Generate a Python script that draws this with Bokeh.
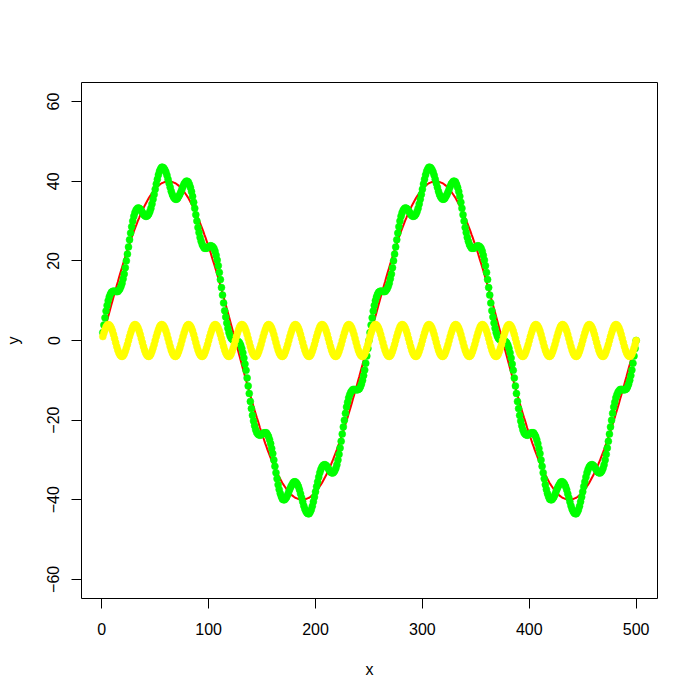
from bokeh.plotting import figure
from bokeh.models import Range1d, FixedTicker
from bokeh.embed import file_html
from bokeh.resources import INLINE

# x positions 1..500
x = list(range(1, 501))

# red line
red = [
    1.0, 2.0, 3.0, 4.0, 5.0, 6.0, 7.0, 8.0, 9.0, 9.9, 10.9, 11.9, 12.8, 13.8, 14.7, 15.7, 16.6, 17.5, 18.4, 19.3, 20.1, 21.0, 21.9, 22.7, 23.5,
    24.3, 25.1, 25.9, 26.6, 27.4, 28.1, 28.8, 29.5, 30.2, 30.8, 31.5, 32.1, 32.7, 33.2, 33.8, 34.3, 34.8, 35.3, 35.8, 36.2, 36.6, 37.0, 37.4, 37.7, 38.0,
    38.3, 38.6, 38.9, 39.1, 39.3, 39.5, 39.6, 39.7, 39.8, 39.9, 40.0, 40.0, 40.0, 40.0, 39.9, 39.8, 39.7, 39.6, 39.5, 39.3, 39.1, 38.9, 38.6, 38.3, 38.0,
    37.7, 37.4, 37.0, 36.6, 36.2, 35.8, 35.3, 34.8, 34.3, 33.8, 33.2, 32.7, 32.1, 31.5, 30.8, 30.2, 29.5, 28.8, 28.1, 27.4, 26.6, 25.9, 25.1, 24.3, 23.5,
    22.7, 21.9, 21.0, 20.1, 19.3, 18.4, 17.5, 16.6, 15.7, 14.7, 13.8, 12.8, 11.9, 10.9, 9.9, 9.0, 8.0, 7.0, 6.0, 5.0, 4.0, 3.0, 2.0, 1.0, 0.0,
    -1.0, -2.0, -3.0, -4.0, -5.0, -6.0, -7.0, -8.0, -9.0, -9.9, -10.9, -11.9, -12.8, -13.8, -14.7, -15.7, -16.6, -17.5, -18.4, -19.3, -20.1, -21.0, -21.9, -22.7, -23.5,
    -24.3, -25.1, -25.9, -26.6, -27.4, -28.1, -28.8, -29.5, -30.2, -30.8, -31.5, -32.1, -32.7, -33.2, -33.8, -34.3, -34.8, -35.3, -35.8, -36.2, -36.6, -37.0, -37.4, -37.7, -38.0,
    -38.3, -38.6, -38.9, -39.1, -39.3, -39.5, -39.6, -39.7, -39.8, -39.9, -40.0, -40.0, -40.0, -40.0, -39.9, -39.8, -39.7, -39.6, -39.5, -39.3, -39.1, -38.9, -38.6, -38.3, -38.0,
    -37.7, -37.4, -37.0, -36.6, -36.2, -35.8, -35.3, -34.8, -34.3, -33.8, -33.2, -32.7, -32.1, -31.5, -30.8, -30.2, -29.5, -28.8, -28.1, -27.4, -26.6, -25.9, -25.1, -24.3, -23.5,
    -22.7, -21.9, -21.0, -20.1, -19.3, -18.4, -17.5, -16.6, -15.7, -14.7, -13.8, -12.8, -11.9, -10.9, -9.9, -9.0, -8.0, -7.0, -6.0, -5.0, -4.0, -3.0, -2.0, -1.0, 0.0,
    1.0, 2.0, 3.0, 4.0, 5.0, 6.0, 7.0, 8.0, 9.0, 9.9, 10.9, 11.9, 12.8, 13.8, 14.7, 15.7, 16.6, 17.5, 18.4, 19.3, 20.1, 21.0, 21.9, 22.7, 23.5,
    24.3, 25.1, 25.9, 26.6, 27.4, 28.1, 28.8, 29.5, 30.2, 30.8, 31.5, 32.1, 32.7, 33.2, 33.8, 34.3, 34.8, 35.3, 35.8, 36.2, 36.6, 37.0, 37.4, 37.7, 38.0,
    38.3, 38.6, 38.9, 39.1, 39.3, 39.5, 39.6, 39.7, 39.8, 39.9, 40.0, 40.0, 40.0, 40.0, 39.9, 39.8, 39.7, 39.6, 39.5, 39.3, 39.1, 38.9, 38.6, 38.3, 38.0,
    37.7, 37.4, 37.0, 36.6, 36.2, 35.8, 35.3, 34.8, 34.3, 33.8, 33.2, 32.7, 32.1, 31.5, 30.8, 30.2, 29.5, 28.8, 28.1, 27.4, 26.6, 25.9, 25.1, 24.3, 23.5,
    22.7, 21.9, 21.0, 20.1, 19.3, 18.4, 17.5, 16.6, 15.7, 14.7, 13.8, 12.8, 11.9, 10.9, 9.9, 9.0, 8.0, 7.0, 6.0, 5.0, 4.0, 3.0, 2.0, 1.0, 0.0,
    -1.0, -2.0, -3.0, -4.0, -5.0, -6.0, -7.0, -8.0, -9.0, -9.9, -10.9, -11.9, -12.8, -13.8, -14.7, -15.7, -16.6, -17.5, -18.4, -19.3, -20.1, -21.0, -21.9, -22.7, -23.5,
    -24.3, -25.1, -25.9, -26.6, -27.4, -28.1, -28.8, -29.5, -30.2, -30.8, -31.5, -32.1, -32.7, -33.2, -33.8, -34.3, -34.8, -35.3, -35.8, -36.2, -36.6, -37.0, -37.4, -37.7, -38.0,
    -38.3, -38.6, -38.9, -39.1, -39.3, -39.5, -39.6, -39.7, -39.8, -39.9, -40.0, -40.0, -40.0, -40.0, -39.9, -39.8, -39.7, -39.6, -39.5, -39.3, -39.1, -38.9, -38.6, -38.3, -38.0,
    -37.7, -37.4, -37.0, -36.6, -36.2, -35.8, -35.3, -34.8, -34.3, -33.8, -33.2, -32.7, -32.1, -31.5, -30.8, -30.2, -29.5, -28.8, -28.1, -27.4, -26.6, -25.9, -25.1, -24.3, -23.5,
    -22.7, -21.9, -21.0, -20.1, -19.3, -18.4, -17.5, -16.6, -15.7, -14.7, -13.8, -12.8, -11.9, -10.9, -9.9, -9.0, -8.0, -7.0, -6.0, -5.0, -4.0, -3.0, -2.0, -1.0, 0.0,
]

# green points
green = [
    2.0, 3.9, 5.7, 7.4, 8.8, 10.0, 10.9, 11.6, 12.1, 12.3, 12.4, 12.4, 12.3, 12.3, 12.3, 12.6, 13.0, 13.6, 14.4, 15.5, 16.7, 18.3, 20.0, 21.7, 23.5,
    25.3, 27.0, 28.6, 30.0, 31.2, 32.1, 32.7, 33.1, 33.3, 33.2, 33.0, 32.6, 32.2, 31.7, 31.4, 31.2, 31.2, 31.4, 31.8, 32.4, 33.2, 34.3, 35.5, 36.7, 38.0,
    39.3, 40.5, 41.6, 42.5, 43.1, 43.5, 43.5, 43.3, 42.9, 42.3, 41.5, 40.5, 39.5, 38.5, 37.5, 36.7, 36.1, 35.7, 35.5, 35.5, 35.7, 36.2, 36.7, 37.3, 38.0,
    38.7, 39.3, 39.7, 40.0, 40.0, 39.8, 39.2, 38.4, 37.4, 36.2, 34.7, 33.2, 31.6, 30.0, 28.4, 27.1, 25.9, 24.9, 24.1, 23.6, 23.2, 23.2, 23.2, 23.3, 23.5,
    23.7, 23.8, 23.7, 23.5, 23.1, 22.4, 21.4, 20.2, 18.8, 17.1, 15.3, 13.3, 11.4, 9.4, 7.5, 5.9, 4.4, 3.1, 2.0, 1.2, 0.6, 0.3, 0.1, 0.0, 0.0,
    0.0, -0.1, -0.3, -0.6, -1.2, -2.0, -3.1, -4.4, -5.9, -7.5, -9.4, -11.4, -13.3, -15.3, -17.1, -18.8, -20.2, -21.4, -22.4, -23.1, -23.5, -23.7, -23.8, -23.7, -23.5,
    -23.3, -23.2, -23.2, -23.2, -23.6, -24.1, -24.9, -25.9, -27.1, -28.4, -30.0, -31.6, -33.2, -34.7, -36.2, -37.4, -38.4, -39.2, -39.8, -40.0, -40.0, -39.7, -39.3, -38.7, -38.0,
    -37.3, -36.7, -36.2, -35.7, -35.5, -35.5, -35.7, -36.1, -36.7, -37.5, -38.5, -39.5, -40.5, -41.5, -42.3, -42.9, -43.3, -43.5, -43.5, -43.1, -42.5, -41.6, -40.5, -39.3, -38.0,
    -36.7, -35.5, -34.3, -33.2, -32.4, -31.8, -31.4, -31.2, -31.2, -31.4, -31.7, -32.2, -32.6, -33.0, -33.2, -33.3, -33.1, -32.7, -32.1, -31.2, -30.0, -28.6, -27.0, -25.3, -23.5,
    -21.7, -20.0, -18.3, -16.7, -15.5, -14.4, -13.6, -13.0, -12.6, -12.3, -12.3, -12.3, -12.4, -12.4, -12.3, -12.1, -11.6, -10.9, -10.0, -8.8, -7.4, -5.7, -3.9, -2.0, 0.0,
    2.0, 3.9, 5.7, 7.4, 8.8, 10.0, 10.9, 11.6, 12.1, 12.3, 12.4, 12.4, 12.3, 12.3, 12.3, 12.6, 13.0, 13.6, 14.4, 15.5, 16.7, 18.3, 20.0, 21.7, 23.5,
    25.3, 27.0, 28.6, 30.0, 31.2, 32.1, 32.7, 33.1, 33.3, 33.2, 33.0, 32.6, 32.2, 31.7, 31.4, 31.2, 31.2, 31.4, 31.8, 32.4, 33.2, 34.3, 35.5, 36.7, 38.0,
    39.3, 40.5, 41.6, 42.5, 43.1, 43.5, 43.5, 43.3, 42.9, 42.3, 41.5, 40.5, 39.5, 38.5, 37.5, 36.7, 36.1, 35.7, 35.5, 35.5, 35.7, 36.2, 36.7, 37.3, 38.0,
    38.7, 39.3, 39.7, 40.0, 40.0, 39.8, 39.2, 38.4, 37.4, 36.2, 34.7, 33.2, 31.6, 30.0, 28.4, 27.1, 25.9, 24.9, 24.1, 23.6, 23.2, 23.2, 23.2, 23.3, 23.5,
    23.7, 23.8, 23.7, 23.5, 23.1, 22.4, 21.4, 20.2, 18.8, 17.1, 15.3, 13.3, 11.4, 9.4, 7.5, 5.9, 4.4, 3.1, 2.0, 1.2, 0.6, 0.3, 0.1, 0.0, 0.0,
    0.0, -0.1, -0.3, -0.6, -1.2, -2.0, -3.1, -4.4, -5.9, -7.5, -9.4, -11.4, -13.3, -15.3, -17.1, -18.8, -20.2, -21.4, -22.4, -23.1, -23.5, -23.7, -23.8, -23.7, -23.5,
    -23.3, -23.2, -23.2, -23.2, -23.6, -24.1, -24.9, -25.9, -27.1, -28.4, -30.0, -31.6, -33.2, -34.7, -36.2, -37.4, -38.4, -39.2, -39.8, -40.0, -40.0, -39.7, -39.3, -38.7, -38.0,
    -37.3, -36.7, -36.2, -35.7, -35.5, -35.5, -35.7, -36.1, -36.7, -37.5, -38.5, -39.5, -40.5, -41.5, -42.3, -42.9, -43.3, -43.5, -43.5, -43.1, -42.5, -41.6, -40.5, -39.3, -38.0,
    -36.7, -35.5, -34.3, -33.2, -32.4, -31.8, -31.4, -31.2, -31.2, -31.4, -31.7, -32.2, -32.6, -33.0, -33.2, -33.3, -33.1, -32.7, -32.1, -31.2, -30.0, -28.6, -27.0, -25.3, -23.5,
    -21.7, -20.0, -18.3, -16.7, -15.5, -14.4, -13.6, -13.0, -12.6, -12.3, -12.3, -12.3, -12.4, -12.4, -12.3, -12.1, -11.6, -10.9, -10.0, -8.8, -7.4, -5.7, -3.9, -2.0, 0.0,
]

# yellow points
yellow = [
    1.0, 1.9, 2.7, 3.4, 3.8, 4.0, 3.9, 3.6, 3.1, 2.4, 1.5, 0.5, -0.5, -1.5, -2.4, -3.1, -3.6, -3.9, -4.0, -3.8, -3.4, -2.7, -1.9, -1.0, 0.0,
    1.0, 1.9, 2.7, 3.4, 3.8, 4.0, 3.9, 3.6, 3.1, 2.4, 1.5, 0.5, -0.5, -1.5, -2.4, -3.1, -3.6, -3.9, -4.0, -3.8, -3.4, -2.7, -1.9, -1.0, 0.0,
    1.0, 1.9, 2.7, 3.4, 3.8, 4.0, 3.9, 3.6, 3.1, 2.4, 1.5, 0.5, -0.5, -1.5, -2.4, -3.1, -3.6, -3.9, -4.0, -3.8, -3.4, -2.7, -1.9, -1.0, 0.0,
    1.0, 1.9, 2.7, 3.4, 3.8, 4.0, 3.9, 3.6, 3.1, 2.4, 1.5, 0.5, -0.5, -1.5, -2.4, -3.1, -3.6, -3.9, -4.0, -3.8, -3.4, -2.7, -1.9, -1.0, 0.0,
    1.0, 1.9, 2.7, 3.4, 3.8, 4.0, 3.9, 3.6, 3.1, 2.4, 1.5, 0.5, -0.5, -1.5, -2.4, -3.1, -3.6, -3.9, -4.0, -3.8, -3.4, -2.7, -1.9, -1.0, 0.0,
    1.0, 1.9, 2.7, 3.4, 3.8, 4.0, 3.9, 3.6, 3.1, 2.4, 1.5, 0.5, -0.5, -1.5, -2.4, -3.1, -3.6, -3.9, -4.0, -3.8, -3.4, -2.7, -1.9, -1.0, 0.0,
    1.0, 1.9, 2.7, 3.4, 3.8, 4.0, 3.9, 3.6, 3.1, 2.4, 1.5, 0.5, -0.5, -1.5, -2.4, -3.1, -3.6, -3.9, -4.0, -3.8, -3.4, -2.7, -1.9, -1.0, 0.0,
    1.0, 1.9, 2.7, 3.4, 3.8, 4.0, 3.9, 3.6, 3.1, 2.4, 1.5, 0.5, -0.5, -1.5, -2.4, -3.1, -3.6, -3.9, -4.0, -3.8, -3.4, -2.7, -1.9, -1.0, 0.0,
    1.0, 1.9, 2.7, 3.4, 3.8, 4.0, 3.9, 3.6, 3.1, 2.4, 1.5, 0.5, -0.5, -1.5, -2.4, -3.1, -3.6, -3.9, -4.0, -3.8, -3.4, -2.7, -1.9, -1.0, 0.0,
    1.0, 1.9, 2.7, 3.4, 3.8, 4.0, 3.9, 3.6, 3.1, 2.4, 1.5, 0.5, -0.5, -1.5, -2.4, -3.1, -3.6, -3.9, -4.0, -3.8, -3.4, -2.7, -1.9, -1.0, 0.0,
    1.0, 1.9, 2.7, 3.4, 3.8, 4.0, 3.9, 3.6, 3.1, 2.4, 1.5, 0.5, -0.5, -1.5, -2.4, -3.1, -3.6, -3.9, -4.0, -3.8, -3.4, -2.7, -1.9, -1.0, 0.0,
    1.0, 1.9, 2.7, 3.4, 3.8, 4.0, 3.9, 3.6, 3.1, 2.4, 1.5, 0.5, -0.5, -1.5, -2.4, -3.1, -3.6, -3.9, -4.0, -3.8, -3.4, -2.7, -1.9, -1.0, 0.0,
    1.0, 1.9, 2.7, 3.4, 3.8, 4.0, 3.9, 3.6, 3.1, 2.4, 1.5, 0.5, -0.5, -1.5, -2.4, -3.1, -3.6, -3.9, -4.0, -3.8, -3.4, -2.7, -1.9, -1.0, 0.0,
    1.0, 1.9, 2.7, 3.4, 3.8, 4.0, 3.9, 3.6, 3.1, 2.4, 1.5, 0.5, -0.5, -1.5, -2.4, -3.1, -3.6, -3.9, -4.0, -3.8, -3.4, -2.7, -1.9, -1.0, 0.0,
    1.0, 1.9, 2.7, 3.4, 3.8, 4.0, 3.9, 3.6, 3.1, 2.4, 1.5, 0.5, -0.5, -1.5, -2.4, -3.1, -3.6, -3.9, -4.0, -3.8, -3.4, -2.7, -1.9, -1.0, 0.0,
    1.0, 1.9, 2.7, 3.4, 3.8, 4.0, 3.9, 3.6, 3.1, 2.4, 1.5, 0.5, -0.5, -1.5, -2.4, -3.1, -3.6, -3.9, -4.0, -3.8, -3.4, -2.7, -1.9, -1.0, 0.0,
    1.0, 1.9, 2.7, 3.4, 3.8, 4.0, 3.9, 3.6, 3.1, 2.4, 1.5, 0.5, -0.5, -1.5, -2.4, -3.1, -3.6, -3.9, -4.0, -3.8, -3.4, -2.7, -1.9, -1.0, 0.0,
    1.0, 1.9, 2.7, 3.4, 3.8, 4.0, 3.9, 3.6, 3.1, 2.4, 1.5, 0.5, -0.5, -1.5, -2.4, -3.1, -3.6, -3.9, -4.0, -3.8, -3.4, -2.7, -1.9, -1.0, 0.0,
    1.0, 1.9, 2.7, 3.4, 3.8, 4.0, 3.9, 3.6, 3.1, 2.4, 1.5, 0.5, -0.5, -1.5, -2.4, -3.1, -3.6, -3.9, -4.0, -3.8, -3.4, -2.7, -1.9, -1.0, 0.0,
    1.0, 1.9, 2.7, 3.4, 3.8, 4.0, 3.9, 3.6, 3.1, 2.4, 1.5, 0.5, -0.5, -1.5, -2.4, -3.1, -3.6, -3.9, -4.0, -3.8, -3.4, -2.7, -1.9, -1.0, 0.0,
]

x_ticks = [0, 100, 200, 300, 400, 500]
y_ticks = [-60, -40, -20, 0, 20, 40, 60]

FONT = "Liberation Sans"

p = figure(
    width=700, height=700,
    x_range=Range1d(-18.96, 519.96),
    y_range=Range1d(-64.8, 64.8),
    output_backend="svg",
    toolbar_location=None,
    min_border_left=81, min_border_right=43,
    min_border_top=82, min_border_bottom=102,
    x_axis_label="x", y_axis_label="y",
)
p.grid.visible = False
p.background_fill_color = "white"
p.border_fill_color = "white"
p.outline_line_color = "black"
p.outline_line_width = 1
p.outline_line_alpha = 1.0

p.line(x, red, line_color="#FF0000", line_width=2)
p.scatter(x, green, size=7, fill_color="#00FF00", line_color="#00FF00", line_width=0.5)
p.scatter(x, yellow, size=7, fill_color="#FFFF00", line_color="#FFFF00", line_width=0.5)

p.xaxis.ticker = FixedTicker(ticks=x_ticks)
p.yaxis.ticker = FixedTicker(ticks=y_ticks)
for ax in (p.xaxis[0], p.yaxis[0]):
    ax.axis_line_color = None
    ax.major_tick_line_color = "black"
    ax.major_tick_out = 10
    ax.major_tick_in = 0
    ax.minor_tick_line_color = None
    ax.major_label_text_font = FONT
    ax.major_label_text_font_size = "16px"
    ax.major_label_text_color = "black"
    ax.axis_label_text_font = FONT
    ax.axis_label_text_font_size = "16px"
    ax.axis_label_text_font_style = "normal"
    ax.axis_label_text_color = "black"

p.xaxis.major_label_standoff = 14
p.xaxis.axis_label_standoff = 23
p.yaxis.major_label_orientation = "vertical"
p.yaxis.major_label_standoff = 12
p.yaxis.axis_label_standoff = 23

open("out.html", "w").write(file_html(p, INLINE))
